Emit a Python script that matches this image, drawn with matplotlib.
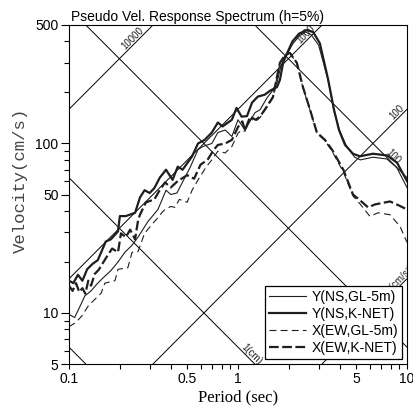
import numpy as np
import matplotlib
matplotlib.use("Agg")
import matplotlib.pyplot as plt
from matplotlib.ticker import FixedLocator, NullFormatter, FixedFormatter

plt.rcParams['font.family'] = ['Liberation Sans', 'DejaVu Sans']
plt.rcParams['lines.scale_dashes'] = False

# ---- response spectra (period sec, pseudo velocity cm/s) ----
T_ns_knet = [0.100, 0.106, 0.113, 0.120, 0.128, 0.138, 0.148, 0.155, 0.165, 0.177,
             0.195, 0.200, 0.217, 0.246, 0.263, 0.280, 0.300, 0.320, 0.345, 0.375,
             0.410, 0.440, 0.470, 0.535, 0.580, 0.635, 0.700, 0.760, 0.810, 0.920,
             0.980, 1.05, 1.13, 1.21, 1.31, 1.44, 1.55, 1.70, 1.77, 1.85, 1.95,
             2.10, 2.30, 2.56, 2.78, 3.05, 3.41, 3.70, 3.96, 4.30, 4.79, 5.27,
             6.29, 7.62, 8.73, 10.0]
V_ns_knet = [15.5, 15.0, 16.8, 15.5, 18.1, 19.5, 20.5, 22.8, 26.4, 27.2,
             30.3, 37.3, 37.3, 39.0, 48.0, 53.0, 51.0, 54.6, 63.0, 70.0,
             61.0, 73.0, 70.0, 84.0, 100.0, 105.0, 116.0, 133.0, 126.0, 138.0,
             162.0, 144.0, 145.0, 174.0, 189.0, 194.0, 205.0, 215.0, 237.0, 300.0, 340.0,
             400.0, 445.0, 467.0, 455.0, 390.0, 240.0, 158.0, 120.0, 98.0, 87.0, 84.0,
             87.0, 85.0, 77.0, 60.0]

T_ns_gl = [0.100, 0.108, 0.118, 0.124, 0.135, 0.148, 0.160, 0.177, 0.195, 0.214,
           0.235, 0.256, 0.293, 0.336, 0.375, 0.400, 0.435, 0.485, 0.520, 0.580,
           0.620, 0.700, 0.760, 0.840, 0.920, 1.00, 1.10, 1.26, 1.35, 1.48,
           1.60, 1.70, 1.80, 1.95, 2.10, 2.30, 2.50, 2.70, 3.00, 3.40, 3.70,
           4.00, 4.40, 4.90, 5.30, 6.30, 7.60, 8.70, 10.0]
V_ns_gl = [9.8, 9.4, 11.3, 12.6, 13.5, 15.0, 16.2, 17.8, 20.0, 22.8,
           25.0, 28.0, 34.6, 40.8, 53.0, 50.0, 51.0, 63.0, 72.0, 92.0,
           96.0, 100.0, 116.0, 120.0, 110.0, 138.0, 120.0, 152.0, 158.0, 185.0,
           205.0, 228.0, 290.0, 335.0, 385.0, 430.0, 455.0, 440.0, 380.0, 240.0, 155.0,
           118.0, 96.0, 83.0, 80.0, 83.0, 81.0, 72.0, 55.0]

T_ew_knet = [0.100, 0.105, 0.110, 0.115, 0.120, 0.125, 0.130, 0.135, 0.142, 0.150,
             0.165, 0.180, 0.195, 0.203, 0.217, 0.230, 0.246, 0.256, 0.263, 0.285,
             0.320, 0.340, 0.370, 0.400, 0.440, 0.500, 0.550, 0.600, 0.660, 0.720,
             0.760, 0.840, 0.920, 1.00, 1.06, 1.10, 1.18, 1.27, 1.35, 1.48, 1.61,
             1.70, 1.77, 1.90, 2.03, 2.23, 2.42, 2.67, 2.93, 3.27, 3.60, 4.20,
             4.79, 5.30, 5.88, 6.47, 7.93, 9.00, 10.0]
V_ew_knet = [14.5, 13.5, 15.0, 13.3, 14.0, 13.0, 15.5, 14.5, 17.0, 18.0,
             21.0, 24.0, 22.8, 29.5, 28.0, 31.0, 27.2, 35.0, 38.0, 44.9,
             46.8, 52.0, 58.9, 55.0, 60.0, 65.0, 62.0, 75.0, 80.0, 92.0,
             98.0, 100.0, 105.0, 125.0, 135.0, 120.0, 144.0, 138.0, 144.0, 165.0, 188.0,
             247.0, 299.0, 333.0, 342.0, 299.0, 216.0, 158.0, 116.0, 105.0, 92.0, 70.0,
             50.0, 46.0, 42.0, 43.7, 45.5, 43.0, 40.8]

T_ew_gl = [0.100, 0.110, 0.119, 0.130, 0.137, 0.155, 0.163, 0.187, 0.195, 0.223,
           0.236, 0.256, 0.280, 0.320, 0.340, 0.355, 0.370, 0.400, 0.423, 0.450,
           0.500, 0.535, 0.580, 0.650, 0.700, 0.760, 0.840, 0.920, 1.00, 1.05,
           1.10, 1.18, 1.27, 1.35, 1.48, 1.61, 1.70, 1.77, 1.90, 2.03, 2.23,
           2.42, 2.67, 2.93, 3.27, 3.60, 4.20, 4.79, 5.27, 6.04, 6.73, 7.93,
           9.10, 10.0]
V_ew_gl = [8.3, 8.8, 9.6, 11.0, 11.6, 13.1, 15.0, 15.5, 18.1, 18.5,
           22.8, 23.0, 29.5, 34.6, 37.0, 39.2, 40.8, 42.5, 42.0, 46.8,
           45.0, 53.0, 61.0, 73.0, 80.0, 90.0, 88.0, 96.0, 115.0, 120.0,
           118.0, 140.0, 135.0, 142.0, 163.0, 186.0, 245.0, 297.0, 330.0, 340.0, 297.0,
           214.0, 157.0, 115.0, 104.0, 90.0, 68.0, 49.0, 44.0, 37.1, 39.0, 38.0,
           32.4, 26.1]

# tripartite grid: displacement (cm) and acceleration (cm/s^2)
disp_levels = [0.1, 1, 10, 100]
acc_levels = [10, 100, 1000, 10000]
acc_labels = {10000: ("10000", 0.25), 1000: ("1000", 2.65), 100: ("100", 9.1),
              10: ("10(cm/s\u00b2)", 9.3)}
disp_labels = {1: ("1(cm)", 1.15), 100: ("100", 7.9)}

x_ticks = [0.1, 0.5, 1, 5, 10]
x_ticklabels = ["0.1", "0.5", "1", "5", "10"]
y_ticks = [5, 10, 50, 100, 500]
y_ticklabels = ["5", "10", "50", "100", "500"]

fig = plt.figure(figsize=(4.14, 4.07), dpi=100)
ax = fig.add_axes([69 / 414, 1 - 364 / 407, 338 / 414, 339 / 407])
ax.set_xscale("log")
ax.set_yscale("log")
ax.set_xlim(0.1, 10)
ax.set_ylim(5, 500)

tt = np.logspace(-1, 1, 50)
for d in disp_levels:
    ax.plot(tt, 2 * np.pi * d / tt, color="black", lw=0.7, zorder=1)
for a in acc_levels:
    ax.plot(tt, a * tt / (2 * np.pi), color="black", lw=0.7, zorder=1)

lab_kw = dict(fontsize=7, ha="center", va="bottom", rotation_mode="anchor",
              color="#222222", zorder=1, clip_on=True)
for a, (txt, t) in acc_labels.items():
    ax.text(t, a * t / (2 * np.pi), txt, rotation=45, **lab_kw)
for d, (txt, t) in disp_labels.items():
    ax.text(t, 2 * np.pi * d / t, txt, rotation=-45, **lab_kw)

c = "#1e1e1e"
ax.plot(T_ns_gl, V_ns_gl, color=c, lw=0.8, label="Y(NS,GL-5m)", zorder=3)
ax.plot(T_ns_knet, V_ns_knet, color=c, lw=1.6, label="Y(NS,K-NET)", zorder=3)
ax.plot(T_ew_gl, V_ew_gl, color=c, lw=0.8, dashes=(5, 3), label="X(EW,GL-5m)", zorder=3)
ax.plot(T_ew_knet, V_ew_knet, color=c, lw=1.6, dashes=(7, 2.5), label="X(EW,K-NET)", zorder=3)

ax.xaxis.set_major_locator(FixedLocator(x_ticks))
ax.xaxis.set_major_formatter(FixedFormatter(x_ticklabels))
ax.xaxis.set_minor_locator(FixedLocator([s * 10.0 ** e for e in (-1, 0) for s in range(2, 10)]))
ax.xaxis.set_minor_formatter(NullFormatter())
ax.yaxis.set_major_locator(FixedLocator(y_ticks))
ax.yaxis.set_major_formatter(FixedFormatter(y_ticklabels))
ax.yaxis.set_minor_locator(FixedLocator([s * 10.0 ** e for e in (0, 1, 2) for s in range(1, 10)]))
ax.yaxis.set_minor_formatter(NullFormatter())

ax.tick_params(axis="y", which="major", direction="out", length=6, width=0.8, pad=1.5, labelsize=10)
ax.tick_params(axis="y", which="minor", direction="out", length=3.5, width=0.8)
ax.tick_params(axis="x", which="major", direction="out", length=3.5, width=0.8, pad=2, labelsize=10)
ax.tick_params(axis="x", which="minor", direction="out", length=3.5, width=0.8)
for s in ax.spines.values():
    s.set_linewidth(0.8)

ax.text(0.005, 1.004, "Pseudo Vel. Response Spectrum (h=5%)", transform=ax.transAxes,
        fontsize=10, ha="left", va="bottom")
ax.set_xlabel("Period (sec)", family=["Liberation Serif"], fontsize=12)
ax.xaxis.set_label_coords(0.5, -0.075)
ax.set_ylabel("Velocity(cm/s)", family=["Liberation Mono"], fontsize=12.5, color="#444444")
ax.yaxis.set_label_coords(-0.122, 0.543)

leg = ax.legend(loc="lower right", fontsize=10, frameon=True, fancybox=False,
                edgecolor="black", framealpha=1, handlelength=2.7, handletextpad=0.35,
                borderpad=0.3, labelspacing=0.22, borderaxespad=0.35)
leg.get_frame().set_linewidth(0.9)
leg.set_zorder(5)

fig.savefig("out.png", dpi=100)
